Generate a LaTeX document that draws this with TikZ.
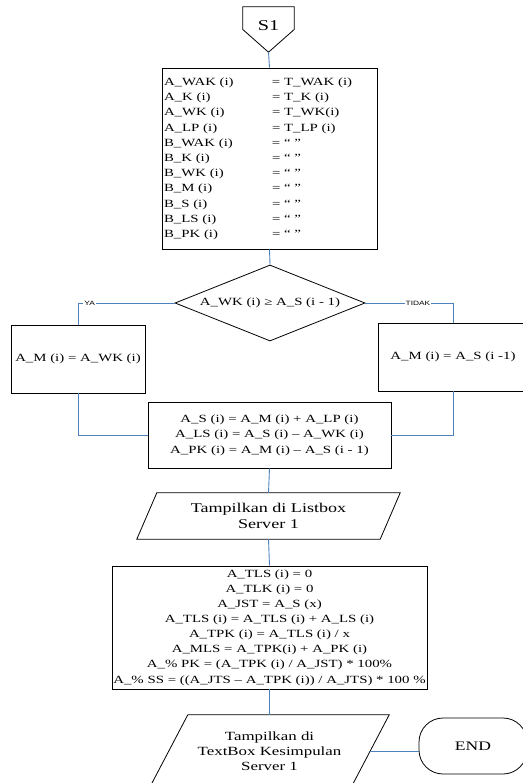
\documentclass[tikz,border=0pt]{standalone}
\usepackage{fontspec}
\setmainfont{Liberation Serif}[FakeStretch=1.35]
\newfontfamily\labfont{Liberation Sans}[FakeStretch=1.35]
\usetikzlibrary{shapes.geometric,shadows}
\definecolor{linkblue}{RGB}{79,129,189}
\definecolor{shad}{RGB}{110,110,110}
\begin{document}
\begin{tikzpicture}[x=1pt,y=-1pt,
  box/.style={draw=black, line width=0.8pt, fill=white, inner sep=0pt, align=center,
    drop shadow={shadow xshift=1.2pt, shadow yshift=-1.2pt, fill=shad, opacity=1}},
  outline/.style={draw=black, line width=0.8pt},
  link/.style={draw=linkblue, line width=0.9pt},
  lbl/.style={font=\labfont\fontsize{6.2}{7}\selectfont, fill=white, inner sep=1pt},
  t11/.style={font=\fontsize{11}{15.2}\selectfont}]
\useasboundingbox (0,0) rectangle (522,783);

% off-page connector
\node[minimum width=51pt, minimum height=45pt, inner sep=0pt,
  label={[font=\fontsize{15}{18}\selectfont, yshift=4pt]center:S1}] (s1) at (268.5,29.5) {};
\draw[outline] (s1.north west) -- (s1.north east) -- ([yshift=22.7pt]s1.south east)
  -- (s1.south) -- ([yshift=22.7pt]s1.south west) -- cycle;

% initialisation box
\node[box, t11, minimum width=215pt, minimum height=181pt] (init) at (269.5,158.5)
{\begin{tabular}{@{}p{108pt}@{}p{103pt}@{}}
A\_WAK (i) & = T\_WAK (i)\\
A\_K (i) & = T\_K (i)\\
A\_WK (i) & = T\_WK(i)\\
A\_LP (i) & = T\_LP (i)\\
B\_WAK (i) & = “ ”\\
B\_K (i) & = “ ”\\
B\_WK (i) & = “ ”\\
B\_M (i) & = “ ”\\
B\_S (i) & = “ ”\\
B\_LS (i) & = “ ”\\
B\_PK (i) & = “ ”
\end{tabular}};

% decision
\node[diamond, draw=black, line width=0.8pt, aspect=2.5, minimum width=190pt,
  minimum height=76pt, inner sep=0pt, t11] (cond) at (270,303) {A\_WK (i) ≥ A\_S (i - 1)};

\node[box, t11, minimum width=134pt, minimum height=68pt] (ya) at (78,359) {A\_M (i) = A\_WK (i)};
\node[box, t11, minimum width=150pt, minimum height=68pt] (tidak) at (453,357) {A\_M (i) = A\_S (i -1)};

\node[box, font=\fontsize{11}{15.5}\selectfont, minimum width=243pt, minimum height=66pt] (calc) at (269.5,435)
{A\_S (i) = A\_M (i) + A\_LP (i)\\
A\_LS (i) = A\_S (i) – A\_WK (i)\\
A\_PK (i) = A\_M (i) – A\_S (i - 1)};

% output 1
\node[minimum width=243pt, minimum height=46pt, inner sep=0pt, align=center,
  font=\fontsize{13.4}{15.5}\selectfont] (show1) at (268.5,516) {Tampilkan di Listbox\\Server 1};
\draw[outline] ([xshift=10pt]show1.north west) -- ([xshift=10pt]show1.north east)
  -- ([xshift=-10pt]show1.south east) -- ([xshift=-10pt]show1.south west) -- cycle;

% summary box
\node[box, font=\fontsize{11}{15.1}\selectfont, minimum width=315pt, minimum height=123pt] (summary) at (269.5,627.5)
{A\_TLS (i) = 0\\
A\_TLK (i) = 0\\
A\_JST = A\_S (x)\\
A\_TLS (i) = A\_TLS (i) + A\_LS (i)\\
A\_TPK (i) = A\_TLS (i) / x\\
A\_MLS = A\_TPK(i) + A\_PK (i)\\
A\_\% PK = (A\_TPK (i) / A\_JST) * 100\%\\
A\_\% SS = ((A\_JTS – A\_TPK (i)) / A\_JTS) * 100 \%};

% output 2
\node[minimum width=201pt, minimum height=72pt, inner sep=0pt, align=center,
  font=\fontsize{12.5}{15}\selectfont] (show2) at (269.5,751) {Tampilkan di\\TextBox Kesimpulan\\Server 1};
\draw[outline] ([xshift=19pt]show2.north west) -- ([xshift=19pt]show2.north east)
  -- ([xshift=-19pt]show2.south east) -- ([xshift=-19pt]show2.south west) -- cycle;

% terminal
\node[draw=black, line width=0.8pt, rounded corners=24pt, minimum width=108pt, minimum height=56pt,
  inner sep=0pt, font=\fontsize{13}{15}\selectfont] (fin) at (473,746) {END};

% connectors
\draw[link] (s1.south) -- (init.north);
\draw[link] (init.south) -- (cond.north);
\draw[link] (cond.west) -| node[lbl, pos=0.44] {YA} (ya.north);
\draw[link] (cond.east) -| node[lbl, pos=0.3] {TIDAK} (tidak.north);
\draw[link] (ya.south) |- (calc.west);
\draw[link] (tidak.south) |- (calc.east);
\draw[link] (calc.south) -- (show1.north);
\draw[link] (show1.south) -- (summary.north);
\draw[link] (summary.south) -- (show2.north);
\draw[link] (show2.east) -- (show2.east -| fin.west);
\end{tikzpicture}
\end{document}
